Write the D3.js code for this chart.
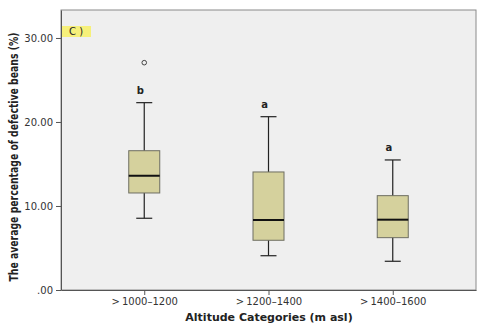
<html>
    <head>
        <style>
            body { margin: 0; background: #ffffff; }
            text { font-family: "DejaVu Sans", sans-serif; }
        </style>
    </head>

    <body>

        <script src='https://d3js.org/d3.v7.min.js' charset='utf-8'></script>
        <script type="text/javascript">

        // data
        var categories = [">1000\u20131200", ">1200\u20131400", ">1400\u20131600"];
        var whiskerLow = [8.54, 4.08, 3.42];
        var q1 = [11.55, 5.92, 6.23];
        var median = [13.6, 8.33, 8.37];
        var q3 = [16.58, 14.05, 11.23];
        var whiskerHigh = [22.3, 20.63, 15.48];
        var letters = ["b", "a", "a"];
        var outliers = [[0, 27.06]];
        var yTicks = [0, 10, 20, 30];

        // variables (plot frame edges)
        var width = 480;
        var height = 328;
        var plotLeft = 61, plotRight = 476, plotTop = 10, plotBottom = 290;

        var svg = d3.select("body").append("svg")
            .attr("width", width)
            .attr("height", height);

        var x = d3.scalePoint()
            .domain(categories)
            .range([plotLeft, plotRight])
            .padding(0.67);

        var y = d3.scaleLinear()
            .domain([0, 33.33])
            .range([plotBottom, plotTop]);

        // plot area
        svg.append("rect")
            .attr("x", plotLeft).attr("y", plotTop)
            .attr("width", plotRight - plotLeft).attr("height", plotBottom - plotTop)
            .attr("fill", "#efefef")
            .attr("stroke", "#8a8a8a")
            .attr("stroke-width", 1);

        // panel tag
        svg.append("rect")
            .attr("x", 62).attr("y", 26)
            .attr("width", 29).attr("height", 11)
            .attr("fill", "#f6f07a");
        svg.append("text")
            .attr("x", 69).attr("y", 35)
            .attr("font-size", 10)
            .attr("fill", "#222")
            .text("C )");

        // axes
        var yAxis = d3.axisLeft(y)
            .tickValues(yTicks)
            .tickSize(5)
            .tickSizeOuter(0)
            .tickFormat(function(d) { return d === 0 ? ".00" : d3.format(".2f")(d); });
        var gy = svg.append("g")
            .attr("transform", "translate(" + plotLeft + ",0)")
            .call(yAxis);
        gy.select(".domain").attr("stroke", "#555");
        gy.selectAll(".tick line").attr("stroke", "#555");
        gy.selectAll(".tick text")
            .attr("font-size", 10)
            .attr("fill", "#333")
            .attr("font-family", "DejaVu Sans");

        var xAxis = d3.axisBottom(x).tickSize(5).tickSizeOuter(0);
        var gx = svg.append("g")
            .attr("transform", "translate(0," + plotBottom + ")")
            .call(xAxis);
        gx.select(".domain").attr("stroke", "#555");
        gx.selectAll(".tick line").attr("stroke", "#555");
        gx.selectAll(".tick text")
            .attr("font-size", 10)
            .attr("fill", "#333")
            .attr("font-family", "DejaVu Sans")
            .text(function(d) { return d.replace(">", ">\u2009"); });

        // titles
        svg.append("text")
            .attr("x", 269).attr("y", 321)
            .attr("text-anchor", "middle")
            .attr("font-size", 11)
            .attr("font-weight", "bold")
            .attr("fill", "#222")
            .text("Altitude Categories (m asl)");

        svg.append("text")
            .attr("transform", "translate(18,157) rotate(-90)")
            .attr("text-anchor", "middle")
            .attr("font-size", 11.5)
            .attr("font-weight", 600)
            .attr("font-family", "Open Sans")
            .attr("textLength", 249)
            .attr("lengthAdjust", "spacingAndGlyphs")
            .attr("fill", "#222")
            .text("The average percentage of defective beans (%)");

        // boxes
        var boxW = 31, capW = 16;
        var idx = d3.range(categories.length);
        var g = svg.append("g");

        // whiskers
        g.selectAll(".whisker")
            .data(idx).enter().append("line")
                .attr("x1", function(i) { return x(categories[i]); })
                .attr("x2", function(i) { return x(categories[i]); })
                .attr("y1", function(i) { return y(whiskerLow[i]); })
                .attr("y2", function(i) { return y(whiskerHigh[i]); })
                .attr("stroke", "#222").attr("stroke-width", 1.2);

        g.selectAll(".capHi")
            .data(idx).enter().append("line")
                .attr("x1", function(i) { return x(categories[i]) - capW / 2; })
                .attr("x2", function(i) { return x(categories[i]) + capW / 2; })
                .attr("y1", function(i) { return y(whiskerHigh[i]); })
                .attr("y2", function(i) { return y(whiskerHigh[i]); })
                .attr("stroke", "#222").attr("stroke-width", 1.2);

        g.selectAll(".capLo")
            .data(idx).enter().append("line")
                .attr("x1", function(i) { return x(categories[i]) - capW / 2; })
                .attr("x2", function(i) { return x(categories[i]) + capW / 2; })
                .attr("y1", function(i) { return y(whiskerLow[i]); })
                .attr("y2", function(i) { return y(whiskerLow[i]); })
                .attr("stroke", "#222").attr("stroke-width", 1.2);

        g.selectAll(".box")
            .data(idx).enter().append("rect")
                .attr("x", function(i) { return x(categories[i]) - boxW / 2; })
                .attr("y", function(i) { return y(q3[i]); })
                .attr("width", boxW)
                .attr("height", function(i) { return y(q1[i]) - y(q3[i]); })
                .attr("fill", "#d5d19d")
                .attr("stroke", "#6e6e62").attr("stroke-width", 1);

        g.selectAll(".median")
            .data(idx).enter().append("line")
                .attr("x1", function(i) { return x(categories[i]) - boxW / 2; })
                .attr("x2", function(i) { return x(categories[i]) + boxW / 2; })
                .attr("y1", function(i) { return y(median[i]); })
                .attr("y2", function(i) { return y(median[i]); })
                .attr("stroke", "#111").attr("stroke-width", 2);

        g.selectAll(".outlier")
            .data(outliers).enter().append("circle")
                .attr("cx", function(d) { return x(categories[d[0]]); })
                .attr("cy", function(d) { return y(d[1]); })
                .attr("r", 2.3)
                .attr("fill", "none")
                .attr("stroke", "#333").attr("stroke-width", 0.9);

        g.selectAll(".letter")
            .data(idx).enter().append("text")
                .attr("x", function(i) { return x(categories[i]) - 4; })
                .attr("y", function(i) { return y(whiskerHigh[i]) - 9; })
                .attr("text-anchor", "middle")
                .attr("font-size", 10)
                .attr("font-weight", "bold")
                .attr("fill", "#222")
                .text(function(i) { return letters[i]; });

        </script>

    </body>
</html>
